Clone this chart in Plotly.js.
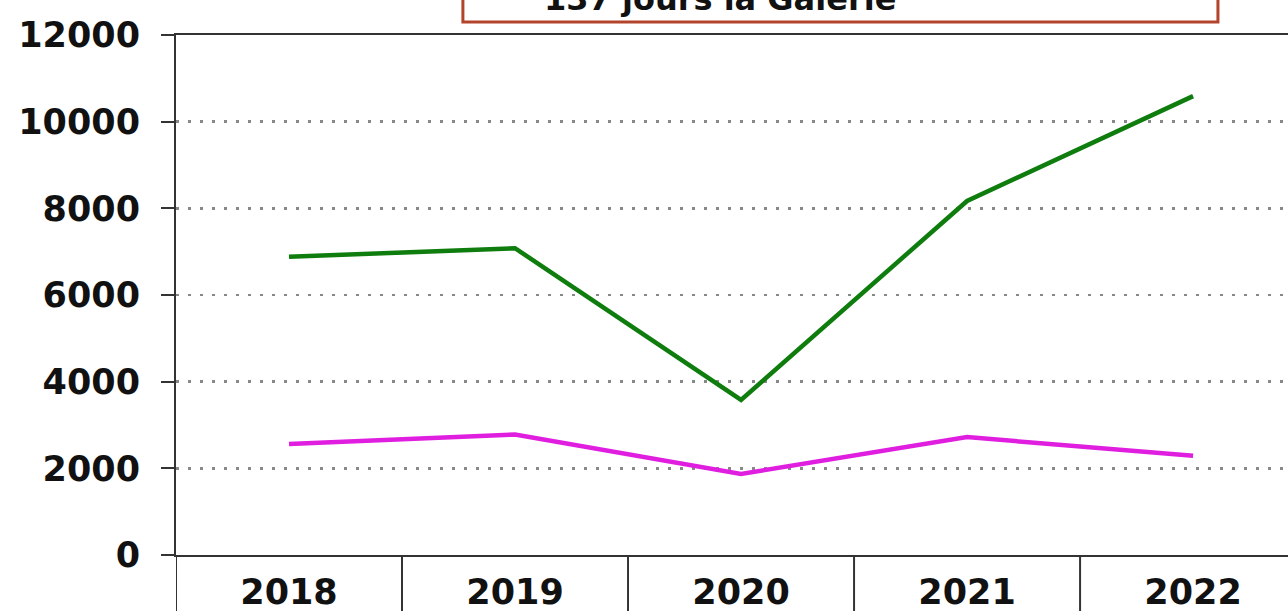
<!DOCTYPE html>
<html>
<head>
<meta charset="utf-8">
<script src="https://cdn.plot.ly/plotly-3.0.1.min.js"></script>
<style>html,body{margin:0;padding:0;background:#fff;}#chart{width:1288px;height:611px;}</style>
</head>
<body>
<div id="chart"></div>
<script>
const years = ["2018", "2019", "2020", "2021", "2022"];
const seriesGreen = [6880, 7080, 3580, 8170, 10590];
const seriesMagenta = [2560, 2780, 1870, 2720, 2290];
const yTicks = [0, 2000, 4000, 6000, 8000, 10000, 12000];
const legendText = "137 jours la Galerie";

const font = {family: "DejaVu Sans, Verdana, sans-serif", size: 35, color: "#111", weight: "bold"};

const traces = [
  {x: years, y: seriesGreen, type: "scatter", mode: "lines", line: {color: "#0e7d0e", width: 4.5}, showlegend: false},
  {x: years, y: seriesMagenta, type: "scatter", mode: "lines", line: {color: "#e01ee0", width: 4.5}, showlegend: false}
];

// category separators below the axis
const shapes = [];
for (let i = 0; i <= years.length; i++) {
  shapes.push({type: "line", xref: "x", yref: "paper", x0: i - 0.5, x1: i - 0.5, y0: 0, y1: -0.2,
    line: {color: "#333", width: 2}});
}
// legend frame (mostly cut off at the top)
shapes.push({type: "rect", xref: "paper", yref: "paper", x0: 0.258, x1: 0.937, y0: 1.025, y1: 1.3,
  line: {color: "#b4432b", width: 3}, fillcolor: "rgba(0,0,0,0)"});

const layout = {
  width: 1288, height: 611,
  margin: {l: 176, r: 0, t: 35, b: 56},
  paper_bgcolor: "#fff", plot_bgcolor: "#fff",
  font: font,
  showlegend: false,
  xaxis: {
    type: "category", categoryarray: years, range: [-0.5, 4.42],
    showgrid: false, zeroline: false, showline: true, mirror: true,
    linecolor: "#333", linewidth: 2, ticks: "", ticklabelstandoff: 5,
    tickfont: font, fixedrange: true
  },
  yaxis: {
    range: [0, 12000], tickvals: yTicks, ticktext: yTicks.map(String),
    showgrid: true, gridcolor: "#888", gridwidth: 2.5, griddash: "3px,9px",
    zeroline: false, showline: true, linecolor: "#333", linewidth: 2,
    ticks: "outside", ticklen: 13, tickcolor: "#333", tickwidth: 2,
    ticklabelstandoff: 14, tickfont: font, fixedrange: true
  },
  shapes: shapes,
  annotations: [{
    xref: "paper", yref: "paper", x: 0.329, y: 1.069, xanchor: "left", yanchor: "middle",
    text: legendText, showarrow: false,
    font: {family: "DejaVu Sans, Verdana, sans-serif", size: 32, color: "#111", weight: "bold"}
  }]
};

Plotly.newPlot("chart", traces, layout, {displayModeBar: false, staticPlot: true});
</script>
</body>
</html>
